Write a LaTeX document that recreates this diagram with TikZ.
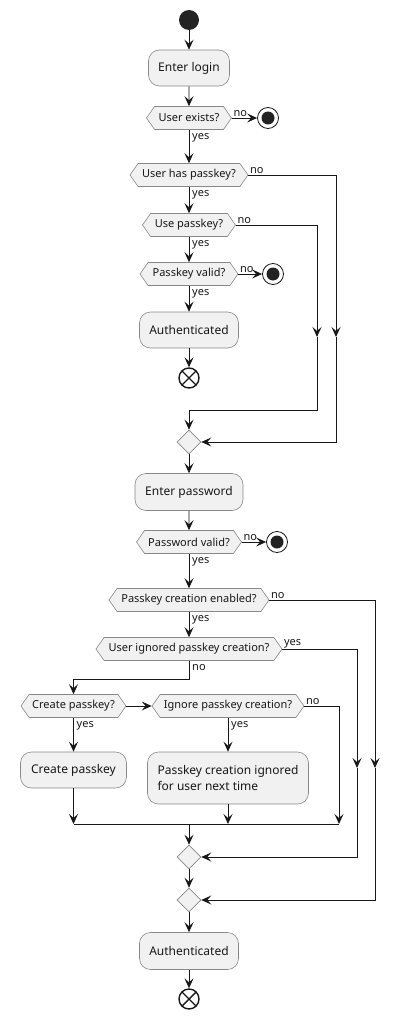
\documentclass[tikz,border=0pt]{standalone}
\usepackage{fontspec}
\setmainfont{Noto Sans}
\usetikzlibrary{arrows.meta,shapes.symbols,shapes.geometric,calc}
\definecolor{boxfill}{HTML}{F1F1F1}
\definecolor{boxline}{HTML}{888888}
\definecolor{ink}{HTML}{181818}
\definecolor{startc}{HTML}{222222}
\begin{document}
\begin{tikzpicture}[x=1pt,y=-1pt,
 act/.style={rectangle, rounded corners=11pt, draw=boxline, fill=boxfill, line width=0.6pt, minimum height=36pt, inner sep=0pt, text=ink, font=\fontsize{12}{15}\selectfont},
 hex/.style={signal, signal to=west and east, signal pointer angle=110, draw=boxline, fill=boxfill, line width=0.6pt, minimum height=23pt, inner sep=0pt, text=ink, font=\fontsize{11}{13}\selectfont},
 merge/.style={diamond, draw=boxline, fill=boxfill, line width=0.6pt, minimum width=24pt, minimum height=24pt, inner sep=0pt},
 startnode/.style={circle, fill=startc, minimum size=20pt, inner sep=0pt},
 stopnode/.style={circle, draw=ink, line width=0.8pt, minimum size=21pt, inner sep=0pt, path picture={\fill[startc] (path picture bounding box.center) circle (6.5pt);}},
 endnode/.style={circle, draw=ink, line width=1.4pt, minimum size=20pt, inner sep=0pt, path picture={\draw[ink, line width=1.4pt] (path picture bounding box.south west) -- (path picture bounding box.north east) (path picture bounding box.north west) -- (path picture bounding box.south east);}},
 arr/.style={draw=ink, line width=0.9pt, -{Stealth[length=10pt,width=9pt,inset=4pt]}},
 ln/.style={draw=ink, line width=0.9pt},
 lbl/.style={font=\fontsize{11}{13}\selectfont, inner sep=1pt, text=ink},
 lyes/.style={lbl, anchor=north west, xshift=2pt, yshift=-2pt},
 lno/.style={lbl, anchor=south west, xshift=0.5pt}
]
\useasboundingbox (0,0) rectangle (400,1019);

% nodes
\node[startnode] (start) at (189,20) {};
\node[act, minimum width=81pt] (el) at (189,68) {Enter login};
\node[hex, minimum width=85pt] (ue) at (189,118) {User exists?};
\node[stopnode] (s1) at (268,118) {};
\node[hex, minimum width=118pt] (hp) at (189,175) {User has passkey?};
\node[hex, minimum width=93pt] (up) at (189,225) {Use passkey?};
\node[hex, minimum width=98pt] (pv) at (189,274) {Passkey valid?};
\node[stopnode] (s2) at (273,274) {};
\node[act, minimum width=99pt] (a1) at (189,330) {Authenticated};
\node[endnode] (e1) at (189,378) {};
\node[merge] (m1) at (189,442) {};
\node[act, minimum width=108pt, minimum height=37pt] (ep) at (189,492) {Enter password};
\node[hex, minimum width=105pt] (pwv) at (189,542) {Password valid?};
\node[stopnode] (s3) at (277,542) {};
\node[hex, minimum width=160pt] (pce) at (189,600) {Passkey creation enabled?};
\node[hex, minimum width=186pt] (uip) at (189,649) {User ignored passkey creation?};
\node[hex, minimum width=105pt] (cp) at (73.5,706) {Create passkey?};
\node[hex, minimum width=152pt] (ipc) at (228,706) {Ignore passkey creation?};
\node[act, minimum width=106pt] (cpb) at (73.5,770) {Create passkey};
\node[act, minimum width=161pt, minimum height=52pt, align=left, font=\fontsize{12}{16.5}\selectfont] (ipb) at (228,778) {Passkey creation ignored\\for user next time};
\node[merge] (m2) at (189,857) {};
\node[merge] (m3) at (189,900) {};
\node[act, minimum width=99pt, minimum height=37pt] (a2) at (189,951) {Authenticated};
\node[endnode] (e2) at (189,999) {};

% helper coordinates
\coordinate (c1) at (336,337);
\coordinate (c2) at (317,337);
\coordinate (c3) at (317,410);
\coordinate (c4) at (375,768);
\coordinate (c5) at (357,768);
\coordinate (c6) at (189,679);
\coordinate (jl) at (73.5,824);
\coordinate (jm) at (228,824);
\coordinate (jc) at (189,824);
\coordinate (jr) at (339,824);

% connectors
\draw[arr] (start) -- (el);
\draw[arr] (el) -- (ue);
\draw[arr] (ue.east) -- (s1);
\draw[arr] (ue.south) -- (hp.north);
\draw[arr] (hp.east) -| (c1);
\draw[arr] (c1) |- (m1.east);
\draw[arr] (hp.south) -- (up.north);
\draw[arr] (up.east) -| (c2);
\draw[arr] (c2) -- (c3) -| (m1.north);
\draw[arr] (up.south) -- (pv.north);
\draw[arr] (pv.east) -- (s2);
\draw[arr] (pv.south) -- (a1);
\draw[arr] (a1) -- (e1);
\draw[arr] (m1) -- (ep);
\draw[arr] (ep) -- (pwv);
\draw[arr] (pwv.east) -- (s3);
\draw[arr] (pwv.south) -- (pce.north);
\draw[arr] (pce.east) -| (c4);
\draw[arr] (c4) |- (m3.east);
\draw[arr] (pce.south) -- (uip.north);
\draw[arr] (uip.east) -| (c5);
\draw[arr] (c5) |- (m2.east);
\draw[arr] (uip.south) -- (c6) -| (cp.north);
\draw[arr] (cp.east) -- (ipc.west);
\draw[arr] (cp.south) -- (cpb);
\draw[arr] (ipc.south) -- (ipb);
\draw[arr] (ipc.east) -| (jr);
\draw[arr] (cpb) -- (jl);
\draw[arr] (ipb) -- (jm);
\draw[ln] (jl) -- (jr);
\draw[arr] (jc) -- (m2);
\draw[arr] (m2) -- (m3);
\draw[arr] (m3) -- (a2);
\draw[arr] (a2) -- (e2);

% labels
\node[lno] (l1) at (ue.east) {no};
\node[lyes] (l2) at (ue.south) {yes};
\node[lno] (l3) at (hp.east) {no};
\node[lyes] (l4) at (hp.south) {yes};
\node[lno] (l5) at (up.east) {no};
\node[lyes] (l6) at (up.south) {yes};
\node[lno] (l7) at (pv.east) {no};
\node[lyes] (l8) at (pv.south) {yes};
\node[lno] (l9) at (pwv.east) {no};
\node[lyes] (l10) at (pwv.south) {yes};
\node[lno] (l11) at (pce.east) {no};
\node[lyes] (l12) at (pce.south) {yes};
\node[lno] (l13) at (uip.east) {yes};
\node[lyes] (l14) at (uip.south) {no};
\node[lyes] (l15) at (cp.south) {yes};
\node[lyes] (l16) at (ipc.south) {yes};
\node[lno] (l17) at (ipc.east) {no};
\end{tikzpicture}
\end{document}
